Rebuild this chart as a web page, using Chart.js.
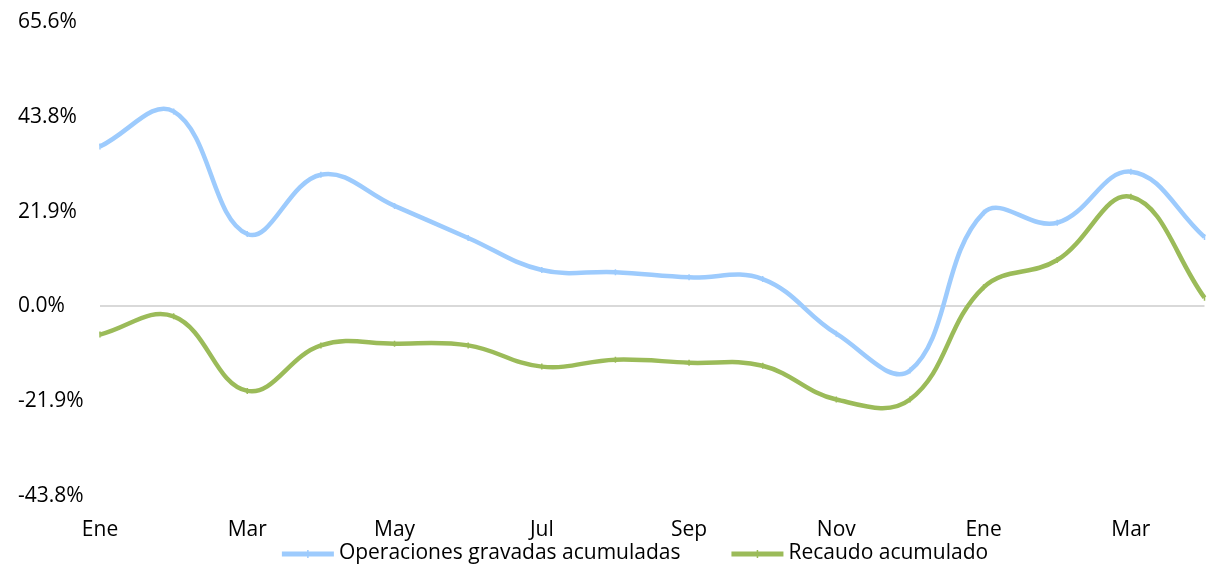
<!DOCTYPE html>
<html>
<head>
<meta charset="utf-8">
<script src="https://cdn.jsdelivr.net/npm/chart.js@4"></script>
<style>
  html, body { margin: 0; padding: 0; background: #fff; overflow: hidden; }
  #wrap { width: 1210px; height: 566px; }
</style>
</head>
<body>
<div id="wrap"><canvas id="myChart"></canvas></div>
<script>
// months, two years (last one cut at the right edge)
const months = ['Ene', 'Feb', 'Mar', 'Abr', 'May', 'Jun', 'Jul', 'Ago', 'Sep', 'Oct', 'Nov', 'Dic',
                'Ene', 'Feb', 'Mar', 'Abr'];

const operaciones = [36.9, 45.0, 16.7, 30.4, 23.2, 15.8, 8.4, 7.9, 6.7, 6.3, -6.3, -14.8,
                     21.6, 19.3, 31.1, 16.0];
const recaudo = [-6.5, -2.3, -19.5, -9.0, -8.6, -9.0, -13.9, -12.3, -13.0, -13.7, -21.5, -21.5,
                 4.4, 10.7, 25.3, 2.0];

const yTicks = [-43.76, -21.88, 0, 21.88, 43.76, 65.64];

const FONT = "'Open Sans', 'Noto Sans', sans-serif";
const FONT_SIZE = 21;

// excel style legend: short thick line + text, centred a bit right of the middle
const excelLegend = {
    id: 'excelLegend',
    afterDraw(chart) {
        const ctx = chart.ctx;
        const sets = chart.data.datasets;
        const sw = 52, gapText = 5, gapItem = 51, y = 554;
        ctx.save();
        ctx.font = FONT_SIZE + 'px ' + FONT;
        ctx.textBaseline = 'middle';
        const widths = sets.map(d => ctx.measureText(d.label).width);
        let total = 0;
        widths.forEach((w, i) => { total += sw + gapText + w + (i < widths.length - 1 ? gapItem : 0); });
        let x = 635 - total / 2;
        sets.forEach((d, i) => {
            ctx.fillStyle = d.borderColor;
            ctx.fillRect(x, y - 2.5, sw, 5);
            ctx.fillRect(x + sw / 2 - 0.75, y - 4, 1.5, 8);
            x += sw + gapText;
            ctx.fillStyle = '#000';
            ctx.fillText(d.label, x, y - 1);
            x += widths[i] + gapItem;
        });
        ctx.restore();
    }
};

new Chart(document.getElementById('myChart'), {
    type: 'line',
    data: {
        labels: months,
        datasets: [{
            label: 'Operaciones gravadas acumuladas',
            data: operaciones,
            borderColor: '#9dcbfd',
            backgroundColor: '#9dcbfd',
            borderWidth: 4.5,
            tension: 0.4,
            pointStyle: 'line',
            pointRotation: 90,
            pointRadius: 3,
            pointBorderWidth: 1.5,
        }, {
            label: 'Recaudo acumulado',
            data: recaudo,
            borderColor: '#9bbb59',
            backgroundColor: '#9bbb59',
            borderWidth: 4.5,
            tension: 0.4,
            pointStyle: 'line',
            pointRotation: 90,
            pointRadius: 3,
            pointBorderWidth: 1.5,
        }]
    },
    options: {
        responsive: true,
        maintainAspectRatio: false,
        animation: false,
        layout: { padding: { left: 18, right: 0, top: 22, bottom: 0 } },
        plugins: {
            title: { display: false },
            tooltip: { enabled: false },
            legend: { display: false }
        },
        scales: {
            x: {
                offset: false,
                grid: { display: false },
                border: { display: false },
                ticks: {
                    autoSkip: false,
                    maxRotation: 0,
                    color: '#000',
                    font: { family: FONT, size: FONT_SIZE },
                    padding: 13,
                    callback: (v, i) => (i % 2 === 0 ? months[i] : '')
                },
                afterFit: s => { s.height = 70; s.paddingRight = 0; s.paddingLeft = 0; }
            },
            y: {
                min: yTicks[0],
                max: yTicks[yTicks.length - 1],
                afterBuildTicks: s => { s.ticks = yTicks.map(v => ({ value: v })); },
                grid: {
                    drawTicks: false,
                    lineWidth: 2,
                    color: c => (c.tick && c.tick.value === 0 ? '#d9d9d9' : 'rgba(0,0,0,0)')
                },
                border: { display: false },
                ticks: {
                    crossAlign: 'far',
                    color: '#000',
                    font: { family: FONT, size: FONT_SIZE },
                    callback: v => v.toFixed(1) + '%'
                },
                afterFit: s => { s.width = 82; }
            }
        }
    },
    plugins: [excelLegend]
});
</script>
</body>
</html>
